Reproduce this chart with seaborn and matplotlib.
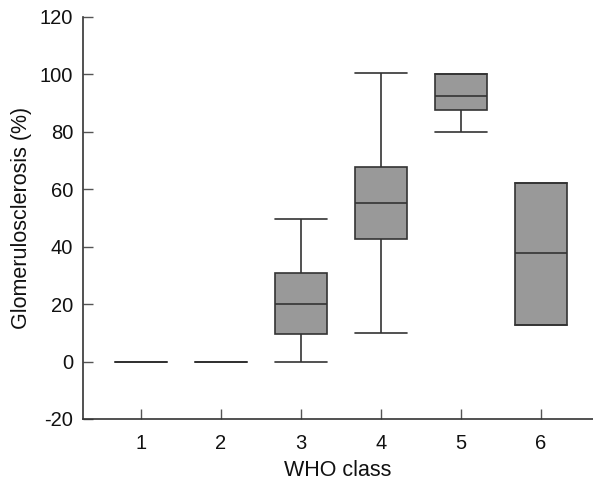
import numpy as np
import pandas as pd
import matplotlib
matplotlib.use("Agg")
import matplotlib.pyplot as plt
import seaborn as sns

# Data (five-number summaries)
who_class = ["1", "2", "3", "4", "5", "6"]
whisker_low = [0, 0, 0, 10, 80, 12.7]
q1 = [0, 0, 9.7, 42.6, 87.7, 12.7]
median = [0, 0, 20.2, 55.3, 92.6, 37.7]
q3 = [0, 0, 31.0, 67.7, 100, 62.3]
whisker_high = [0, 0, 49.7, 100.4, 100, 62.3]
y_ticks = [-20, 0, 20, 40, 60, 80, 100, 120]

rows = []
for i, c in enumerate(who_class):
    for v in (whisker_low[i], q1[i], median[i], q3[i], whisker_high[i]):
        rows.append({"WHO class": c, "value": v})
df = pd.DataFrame(rows)

sns.set_theme(style="ticks")
plt.rcParams["font.family"] = ["Liberation Sans", "DejaVu Sans"]

fig = plt.figure(figsize=(5.93, 4.82), dpi=100)
ax = fig.add_axes([83 / 593, 1 - 419 / 482, 1 - 83 / 593, (419 - 17) / 482])

sns.boxplot(data=df, x="WHO class", y="value", order=who_class, ax=ax,
            color="#999999", saturation=1, width=0.66, whis=(0, 100),
            linecolor="#333333", linewidth=1.2, showfliers=False)

# caps as wide as the box
for line in ax.lines:
    xd = line.get_xdata()
    yd = line.get_ydata()
    if len(xd) == 2 and yd[0] == yd[1] and abs(xd[1] - xd[0]) > 0:
        cx = (xd[0] + xd[1]) / 2
        line.set_xdata([cx - 0.33, cx + 0.33])

ax.set_ylim(-20, 120)
ax.set_xlim(-0.725, 5.65)
ax.set_yticks(y_ticks)
ax.set_yticklabels([str(t) for t in y_ticks])
ax.tick_params(axis="both", direction="in", length=7, width=1, color="#555555",
               labelsize=14.5, labelcolor="#111111")
ax.tick_params(axis="x", pad=11)
ax.tick_params(axis="y", pad=7)
ax.set_xlabel("WHO class", fontsize=15.5, color="#111111", labelpad=5)
ax.set_ylabel("Glomerulosclerosis (%)", fontsize=15.5, color="#111111", labelpad=6)
for s in ["top", "right"]:
    ax.spines[s].set_visible(False)
for s in ["left", "bottom"]:
    ax.spines[s].set_color("#333333")
    ax.spines[s].set_linewidth(1.2)

fig.savefig("out.png", dpi=100)
